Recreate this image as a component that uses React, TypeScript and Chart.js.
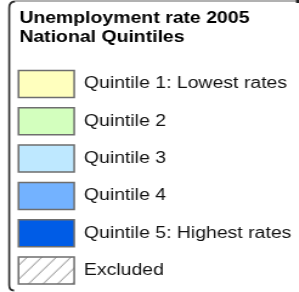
import React, { useEffect, useRef } from 'react';
import { Chart, registerables } from 'chart.js';

Chart.register(...registerables);

// ---- Data (legend of a choropleth map: classes only, no plotted values) ----
const TITLE_LINES = ['Unemployment rate 2005', 'National Quintiles'];
const CATEGORIES = [
  'Quintile 1: Lowest rates',
  'Quintile 2',
  'Quintile 3',
  'Quintile 4',
  'Quintile 5: Highest rates',
  'Excluded',
];
const CLASS_COLORS = ['#FFFFBE', '#D3FFBE', '#BEE8FF', '#73B2FF', '#005CE6', 'hatch'];
const CLASS_VALUES: number[][] = [[], [], [], [], [], []];

// ---- Layout helpers ----
const S = 1.215; // horizontal stretch of the original artwork
const W = 299;
const H = 292;
const CANVAS_W = Math.round(W / S);
const FONT = "'Liberation Sans', Arial, Helvetica, sans-serif";
const LABEL_PAD = 10.3;
const BOX_LEFT = 18.5 / S;
const PAD_LEFT = BOX_LEFT - LABEL_PAD;
const TITLE_LEFT = 19.3 / S;

function makeHatch(ctx: CanvasRenderingContext2D) {
  const c = document.createElement('canvas');
  c.width = 12;
  c.height = 14;
  const g = c.getContext('2d')!;
  g.fillStyle = '#ffffff';
  g.fillRect(0, 0, 12, 14);
  g.strokeStyle = '#7a7a7a';
  g.lineWidth = 0.9;
  for (const dx of [-12, 0, 12]) {
    g.beginPath();
    g.moveTo(dx, 14);
    g.lineTo(dx + 12, 0);
    g.stroke();
  }
  const p = ctx.createPattern(c, 'repeat')!;
  try {
    p.setTransform(new DOMMatrix().translate(2.7, 0));
  } catch (e) {}
  return p;
}

const framePlugin = {
  id: 'legendFrame',
  afterDraw(chart: any) {
    const ctx: CanvasRenderingContext2D = chart.ctx;
    ctx.save();
    ctx.setTransform(1 / S, 0, 0, 1, 0, 0);
    ctx.strokeStyle = '#2a2a2a';
    ctx.lineWidth = 2;
    ctx.beginPath();
    ctx.moveTo(14, 290.5);
    ctx.quadraticCurveTo(9.2, 290.5, 9.2, 285);
    ctx.lineTo(9.2, 8);
    ctx.quadraticCurveTo(9.2, 1.5, 15, 1.5);
    ctx.stroke();
    ctx.lineWidth = 1;
    ctx.strokeStyle = '#555555';
    ctx.beginPath();
    ctx.moveTo(15, 1);
    ctx.lineTo(297, 1);
    ctx.stroke();
    ctx.fillStyle = '#222222';
    ctx.fillRect(296, 0, 3, 3);
    ctx.restore();
  },
};

export default function App() {
  const ref = useRef<HTMLCanvasElement | null>(null);

  useEffect(() => {
    const canvas = ref.current!;
    const ctx = canvas.getContext('2d')!;
    const hatch = makeHatch(ctx);
    const chart = new Chart(canvas, {
      type: 'bar',
      data: {
        labels: [],
        datasets: CATEGORIES.map((label, i) => ({
          label,
          data: CLASS_VALUES[i],
          backgroundColor: CLASS_COLORS[i] === 'hatch' ? (hatch as any) : CLASS_COLORS[i],
          borderColor: '#6E6E6E',
          borderWidth: 1.5,
        })),
      },
      options: {
        responsive: false,
        animation: false,
        events: [],
        layout: { padding: { left: PAD_LEFT, top: 0, right: 0, bottom: 0 } },
        scales: {
          x: { display: false },
          y: {
            display: true,
            grid: { display: false },
            border: { display: false },
            ticks: { display: false },
            afterFit: (s: any) => {
              s.width = TITLE_LEFT - PAD_LEFT;
            },
          },
        },
        plugins: {
          title: {
            display: true,
            text: TITLE_LINES,
            align: 'start',
            fullSize: false,
            color: '#000000',
            font: { family: FONT, size: 16, weight: 'bold', lineHeight: 19 / 16 },
            padding: { top: 9, bottom: 13.2 },
          },
          legend: {
            display: true,
            position: 'top',
            align: 'start',
            fullSize: true,
            maxHeight: 230,
            labels: {
              boxWidth: 55.7 / S,
              boxHeight: 27,
              padding: LABEL_PAD,
              color: '#111111',
              font: { family: FONT, size: 16 },
            },
          },
          tooltip: { enabled: false },
        },
      } as any,
      plugins: [framePlugin],
    });
    return () => chart.destroy();
  }, []);

  return (
    <div style={{ position: 'absolute', left: 0, top: 0, width: W, height: H, overflow: 'hidden', background: '#fff' }}>
      <canvas
        ref={ref}
        width={CANVAS_W}
        height={H}
        style={{
          display: 'block',
          width: CANVAS_W + 'px',
          height: H + 'px',
          transform: `scaleX(${S})`,
          transformOrigin: '0 0',
        }}
      />
    </div>
  );
}
